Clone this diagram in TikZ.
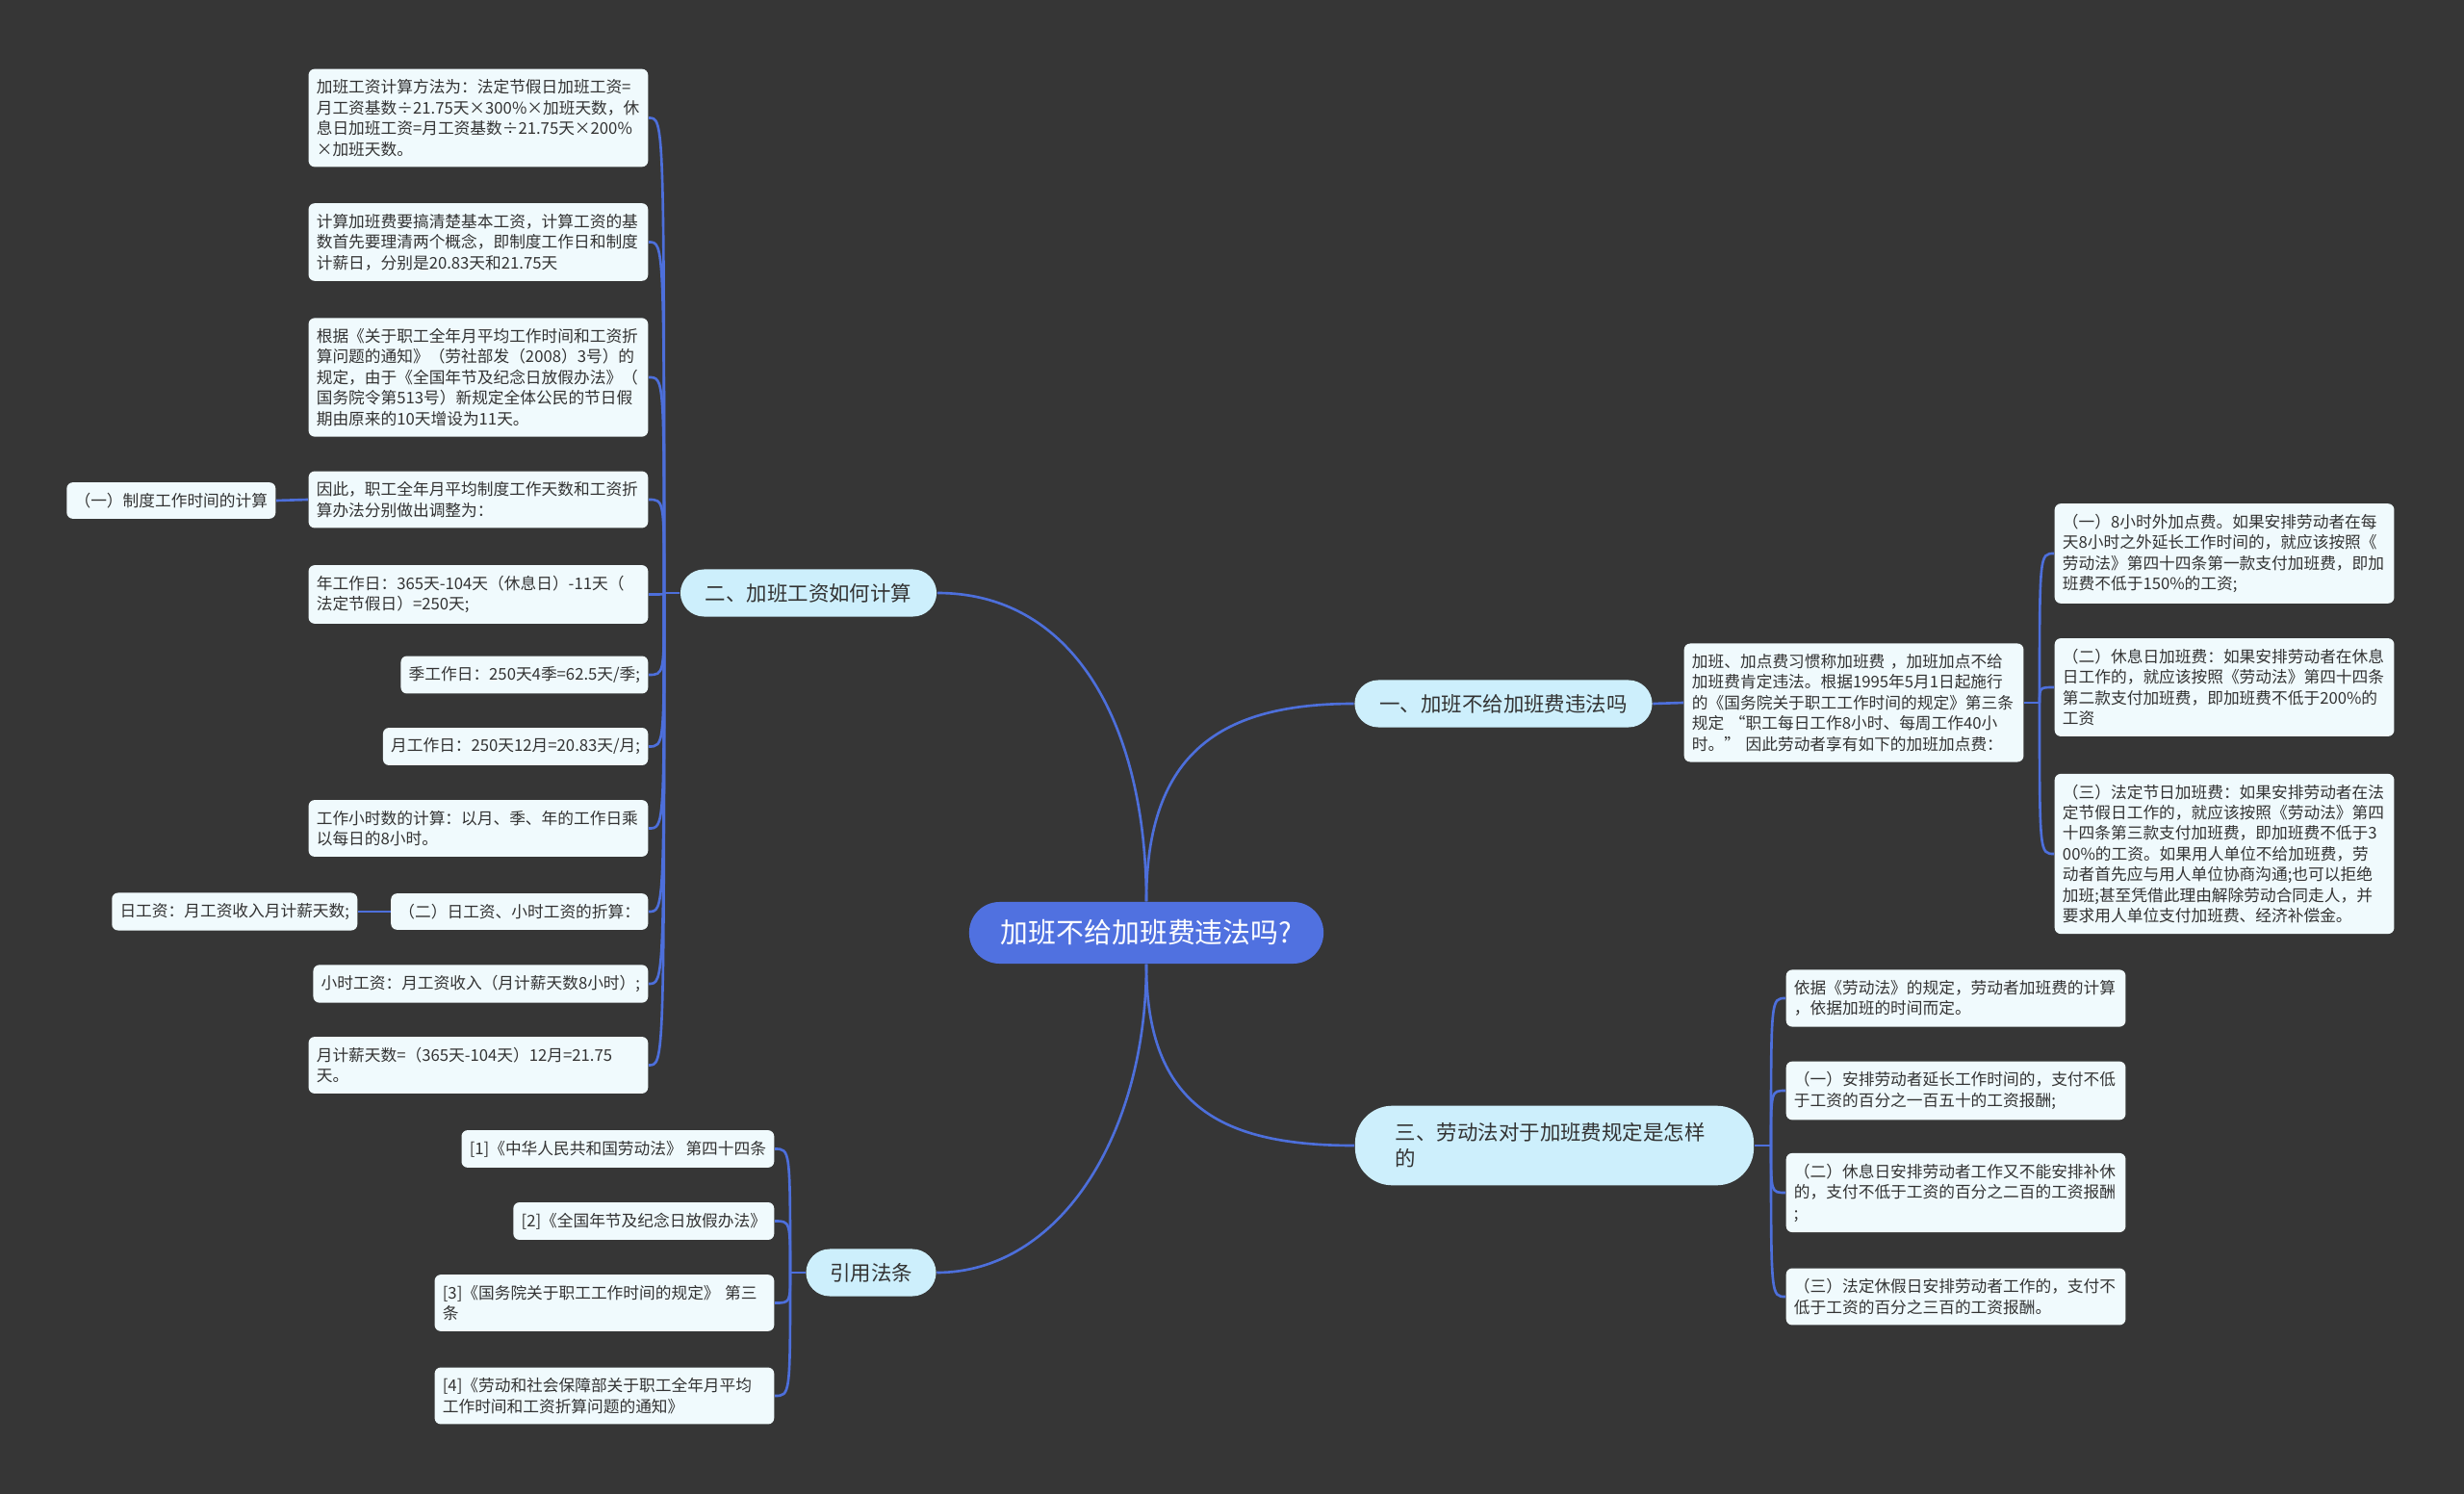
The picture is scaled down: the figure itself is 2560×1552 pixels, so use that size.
\documentclass[tikz,border=0pt]{standalone}
\usepackage{fontspec}
\setmainfont{Noto Sans CJK SC}
\usetikzlibrary{positioning}
\definecolor{cbg}{HTML}{363636}
\definecolor{cline}{HTML}{4D6FDB}
\definecolor{croot}{HTML}{5071E0}
\definecolor{cbranch}{HTML}{CDEFFC}
\definecolor{cleaf}{HTML}{F0FAFD}
\definecolor{ctext}{HTML}{333333}
\newcommand{\leaffont}{\fontsize{4.75}{6.1}\selectfont}
\newcommand{\branchfont}{\fontsize{6.1}{7.7}\selectfont}
\tikzset{
  root/.style={fill=croot, text=white, rounded corners=9pt, minimum width=3.68cm, minimum height=0.64cm, font=\fontsize{8.2}{10}\selectfont},
  branch/.style={fill=cbranch, text=ctext, rounded corners=7pt, minimum height=0.49cm, inner xsep=0pt, font=\branchfont},
  leaf/.style={fill=cleaf, text=ctext, rounded corners=1.8pt, align=left, inner xsep=2.35pt, inner ysep=3.1pt, font=\leaffont},
  wide/.style={leaf, text width=3.36cm},
  link/.style={draw=cline, line width=0.75pt},
}

\begin{document}
\begin{tikzpicture}[x=0.01cm, y=-0.01cm]
  \fill[cbg] (0,0) rectangle (2560,1552);
  \node[root] (top) at (1191,969) {加班不给加班费违法吗?};
  \node[branch, minimum width=3.09cm] (b1) at (1562,731) {一、加班不给加班费违法吗};
  \node[branch, minimum width=2.66cm] (b2) at (840,616) {二、加班工资如何计算};
  \node[branch, text width=3.3cm, align=left, inner xsep=0.42cm, inner ysep=0.18cm, rounded corners=11pt] (b3) at (1615,1190) {三、劳动法对于加班费规定是怎样\\的};
  \node[branch, minimum width=1.35cm] (b4) at (905,1322) {引用法条};

  \node[wide, anchor=east] (c1) at (674,122.5) {加班工资计算方法为：法定节假日加班工资=\\月工资基数÷21.75天×300\%×加班天数，休\\息日加班工资=月工资基数÷21.75天×200\%\\×加班天数。};
  \node[wide, anchor=east] (c2) at (674,251.5) {计算加班费要搞清楚基本工资，计算工资的基\\数首先要理清两个概念，即制度工作日和制度\\计薪日，分别是20.83天和21.75天};
  \node[wide, anchor=east] (c3) at (674,392) {根据《关于职工全年月平均工作时间和工资折\\算问题的通知》（劳社部发（2008）3号）的\\规定，由于《全国年节及纪念日放假办法》（\\国务院令第513号）新规定全体公民的节日假\\期由原来的10天增设为11天。};
  \node[wide, anchor=east] (c4) at (674,519) {因此，职工全年月平均制度工作天数和工资折\\算办法分别做出调整为：};
  \node[leaf, anchor=east] (c4a) at (287,520) {（一）制度工作时间的计算};
  \node[wide, anchor=east] (c5) at (674,617.5) {年工作日：365天-104天（休息日）-11天（\\法定节假日）=250天;};
  \node[leaf, anchor=east] (c6) at (674,701) {季工作日：250天4季=62.5天/季;};
  \node[leaf, anchor=east] (c7) at (674,775.5) {月工作日：250天12月=20.83天/月;};
  \node[wide, anchor=east] (c8) at (674,860.5) {工作小时数的计算：以月、季、年的工作日乘\\以每日的8小时。};
  \node[leaf, anchor=east] (c9) at (674,947) {（二）日工资、小时工资的折算：};
  \node[leaf, anchor=east] (c9a) at (372,947) {日工资：月工资收入月计薪天数;};
  \node[leaf, anchor=east] (c10) at (674,1022) {小时工资：月工资收入（月计薪天数8小时）;};
  \node[wide, anchor=east] (c11) at (674,1106.5) {月计薪天数=（365天-104天）12月=21.75\\天。};

  \node[wide, anchor=west] (r1) at (1749,730) {加班、加点费习惯称加班费 ，加班加点不给\\加班费肯定违法。根据1995年5月1日起施行\\的《国务院关于职工工作时间的规定》第三条\\规定 “职工每日工作8小时、每周工作40小\\时。” 因此劳动者享有如下的加班加点费：};
  \node[wide, anchor=west] (r1a) at (2134,575) {（一）8小时外加点费。如果安排劳动者在每\\天8小时之外延长工作时间的，就应该按照《\\劳动法》第四十四条第一款支付加班费，即加\\班费不低于150\%的工资;};
  \node[wide, anchor=west] (r1b) at (2134,714) {（二）休息日加班费：如果安排劳动者在休息\\日工作的，就应该按照《劳动法》第四十四条\\第二款支付加班费，即加班费不低于200\%的\\工资};
  \node[wide, anchor=west] (r1c) at (2134,887) {（三）法定节日加班费：如果安排劳动者在法\\定节假日工作的，就应该按照《劳动法》第四\\十四条第三款支付加班费，即加班费不低于3\\00\%的工资。如果用人单位不给加班费，劳\\动者首先应与用人单位协商沟通;也可以拒绝\\加班;甚至凭借此理由解除劳动合同走人，并\\要求用人单位支付加班费、经济补偿金。};

  \node[wide, anchor=west] (d1) at (1855,1037) {依据《劳动法》的规定，劳动者加班费的计算\\，依据加班的时间而定。};
  \node[wide, anchor=west] (d2) at (1855,1133) {（一）安排劳动者延长工作时间的，支付不低\\于工资的百分之一百五十的工资报酬;};
  \node[wide, anchor=west] (d3) at (1855,1239) {（二）休息日安排劳动者工作又不能安排补休\\的，支付不低于工资的百分之二百的工资报酬\\;};
  \node[wide, anchor=west] (d4) at (1855,1347) {（三）法定休假日安排劳动者工作的，支付不\\低于工资的百分之三百的工资报酬。};

  \node[leaf, anchor=east] (e1) at (805,1193.5) {[1]《中华人民共和国劳动法》 第四十四条};
  \node[leaf, anchor=east] (e2) at (805,1268.5) {[2]《全国年节及纪念日放假办法》};
  \node[wide, anchor=east] (e3) at (805,1353.5) {[3]《国务院关于职工工作时间的规定》 第三\\条};
  \node[wide, anchor=east] (e4) at (805,1450) {[4]《劳动和社会保障部关于职工全年月平均\\工作时间和工资折算问题的通知》};

  \draw[link] (top.north) .. controls (1191,780) and (1270,731) .. (b1.west);
  \draw[link] (top.north) .. controls (1191,760) and (1120,616) .. (b2.east);
  \draw[link] (top.south) .. controls (1191,1150) and (1270,1190) .. (b3.west);
  \draw[link] (top.south) .. controls (1191,1180) and (1100,1322) .. (b4.east);

  \coordinate (t2) at (690,616);
  \draw[link] (b2.west) -- (t2);
  \draw[link] (t2) .. controls (t2 |- c1.east) .. (c1.east);
  \draw[link] (t2) .. controls (t2 |- c2.east) .. (c2.east);
  \draw[link] (t2) .. controls (t2 |- c3.east) .. (c3.east);
  \draw[link] (t2) .. controls (t2 |- c4.east) .. (c4.east);
  \draw[link] (t2) .. controls (t2 |- c5.east) .. (c5.east);
  \draw[link] (t2) .. controls (t2 |- c6.east) .. (c6.east);
  \draw[link] (t2) .. controls (t2 |- c7.east) .. (c7.east);
  \draw[link] (t2) .. controls (t2 |- c8.east) .. (c8.east);
  \draw[link] (t2) .. controls (t2 |- c9.east) .. (c9.east);
  \draw[link] (t2) .. controls (t2 |- c10.east) .. (c10.east);
  \draw[link] (t2) .. controls (t2 |- c11.east) .. (c11.east);
  \draw[link] (c4.west) -- (c4a.east);
  \draw[link] (c9.west) -- (c9a.east);

  \draw[link] (b1.east) -- (r1.west);
  \coordinate (t1) at (2119,730);
  \draw[link] (r1.east) -- (t1);
  \draw[link] (t1) .. controls (t1 |- r1a.west) .. (r1a.west);
  \draw[link] (t1) .. controls (t1 |- r1b.west) .. (r1b.west);
  \draw[link] (t1) .. controls (t1 |- r1c.west) .. (r1c.west);

  \coordinate (t3) at (1840,1190);
  \draw[link] (b3.east) -- (t3);
  \draw[link] (t3) .. controls (t3 |- d1.west) .. (d1.west);
  \draw[link] (t3) .. controls (t3 |- d2.west) .. (d2.west);
  \draw[link] (t3) .. controls (t3 |- d3.west) .. (d3.west);
  \draw[link] (t3) .. controls (t3 |- d4.west) .. (d4.west);

  \coordinate (t4) at (821,1322);
  \draw[link] (b4.west) -- (t4);
  \draw[link] (t4) .. controls (t4 |- e1.east) .. (e1.east);
  \draw[link] (t4) .. controls (t4 |- e2.east) .. (e2.east);
  \draw[link] (t4) .. controls (t4 |- e3.east) .. (e3.east);
  \draw[link] (t4) .. controls (t4 |- e4.east) .. (e4.east);
\end{tikzpicture}
\end{document}
